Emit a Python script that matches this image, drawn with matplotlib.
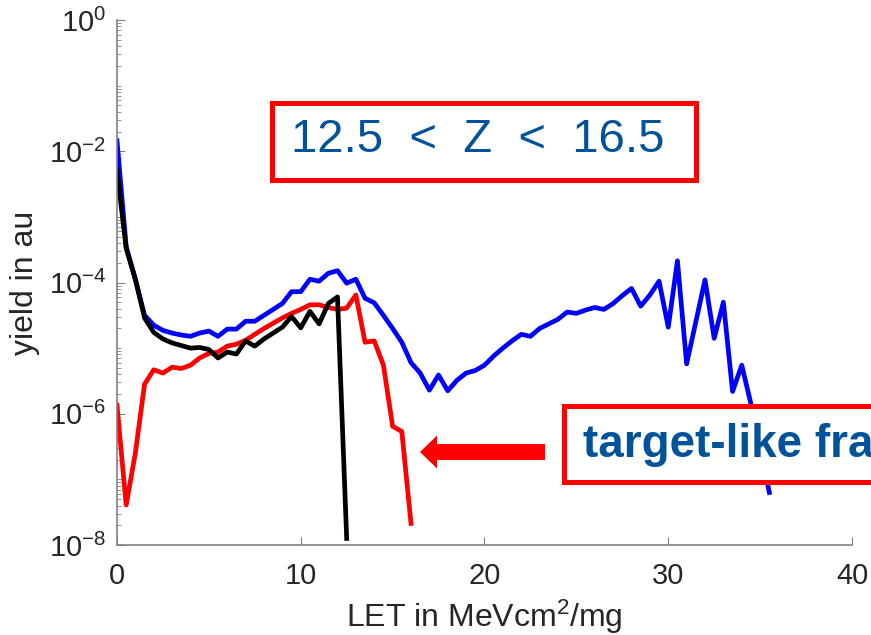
import matplotlib
matplotlib.use("Agg")
import matplotlib.pyplot as plt
import matplotlib.patches as mpatches
from matplotlib.ticker import LogLocator, FixedLocator, NullFormatter
import numpy as np

plt.rcParams['font.family'] = ['Liberation Sans', 'DejaVu Sans']
plt.rcParams['mathtext.default'] = 'regular'

# LET bins (MeV cm^2/mg), 0.5 wide, starting at 0
bin_width = 0.5

# log10(yield)
log_yield_blue = [-1.84, -3.45, -3.95, -4.50, -4.65, -4.73, -4.77, -4.80, -4.82, -4.77,
                  -4.74, -4.82, -4.71, -4.71, -4.59, -4.59, -4.50, -4.41, -4.32, -4.14,
                  -4.14, -3.95, -3.98, -3.86, -3.82, -4.01, -3.95, -4.24, -4.31, -4.50,
                  -4.70, -4.91, -5.22, -5.38, -5.64, -5.41, -5.65, -5.49, -5.38, -5.34,
                  -5.26, -5.12, -5.00, -4.89, -4.79, -4.82, -4.70, -4.63, -4.56, -4.45,
                  -4.47, -4.42, -4.38, -4.41, -4.32, -4.20, -4.09, -4.36, -4.19, -3.98,
                  -4.68, -3.67, -5.24, -4.60, -3.96, -4.85, -4.30, -5.66, -5.26, -5.85,
                  -6.50, -7.20]
log_yield_black = [-2.29, -3.48, -3.95, -4.54, -4.76, -4.86, -4.92, -4.96, -5.00, -4.99,
                   -5.02, -5.15, -5.06, -5.09, -4.89, -4.97, -4.86, -4.77, -4.68, -4.52,
                   -4.69, -4.44, -4.63, -4.32, -4.22, -7.90]
log_yield_red = [-5.87, -7.39, -6.60, -5.55, -5.33, -5.38, -5.29, -5.31, -5.26, -5.15,
                 -5.08, -5.06, -4.97, -4.94, -4.88, -4.79, -4.70, -4.62, -4.54, -4.47,
                 -4.41, -4.34, -4.34, -4.38, -4.41, -4.39, -4.19, -4.91, -4.89, -5.26,
                 -6.19, -6.27, -7.67]

z_range_text = "12.5  <  Z  <  16.5"
fragment_text = "target-like fragments"


def let_axis(vals):
    return bin_width * np.arange(len(vals))


fig = plt.figure(figsize=(8.71, 6.35), dpi=100)
ax = fig.add_axes([0.1343, 0.1417, 0.8439, 0.8268])

ax.semilogy(let_axis(log_yield_blue), 10.0 ** np.array(log_yield_blue), color='#0000ff', lw=3.4)
ax.semilogy(let_axis(log_yield_red), 10.0 ** np.array(log_yield_red), color='#ff0000', lw=3.4)
ax.semilogy(let_axis(log_yield_black), 10.0 ** np.array(log_yield_black), color='black', lw=3.4)

ax.set_xlim(0, 40)
ax.set_ylim(1e-8, 1e0)
ax.set_xticks([0, 10, 20, 30, 40])
ax.yaxis.set_major_locator(FixedLocator([1e-8, 1e-6, 1e-4, 1e-2, 1e0]))
ax.yaxis.set_minor_locator(LogLocator(base=10, subs=np.arange(1, 10), numticks=50))
ax.yaxis.set_minor_formatter(NullFormatter())

for s in ['top', 'right']:
    ax.spines[s].set_visible(False)
for s in ['left', 'bottom']:
    ax.spines[s].set_color('#808080')
    ax.spines[s].set_linewidth(1.2)
ax.tick_params(which='both', direction='in', color='#808080', labelcolor='#262626')
ax.tick_params(which='major', length=6, labelsize=21)
ax.tick_params(axis='x', which='major', pad=12)
ax.tick_params(axis='y', which='major', pad=8)
ax.tick_params(which='minor', length=3)

ax.set_xlabel("LET in MeVcm$^2$/mg", fontsize=23, color='#262626', labelpad=6)
ax.set_ylabel("yield in au", fontsize=23, color='#262626', labelpad=6)

# annotation boxes
box1 = mpatches.Rectangle((271.5 / 871, (635 - 179.5) / 635), 424 / 871, 77 / 635,
                          transform=fig.transFigure, facecolor='white', edgecolor='#ff0000',
                          lw=3.6, zorder=5)
fig.patches.append(box1)
fig.text(478 / 871, (635 - 140) / 635, z_range_text, fontsize=34, color='#00529b',
         ha='center', va='center', zorder=6)

box2 = mpatches.Rectangle((563.5 / 871, (635 - 481.5) / 635), 0.5, 76 / 635,
                          transform=fig.transFigure, facecolor='white', edgecolor='#ff0000',
                          lw=3.6, zorder=5)
fig.patches.append(box2)
fig.text(583 / 871, (635 - 445) / 635, fragment_text, fontsize=33, fontweight='bold',
         color='#00529b', ha='left', va='center', zorder=6)

arrow = mpatches.FancyArrow(545 / 871, (635 - 452) / 635, -125 / 871, 0,
                            width=16 / 635, head_width=33 / 635, head_length=17 / 871,
                            length_includes_head=True, transform=fig.transFigure,
                            color='#ff0000', lw=0, zorder=5)
fig.patches.append(arrow)

plt.savefig("out.png", dpi=100)
